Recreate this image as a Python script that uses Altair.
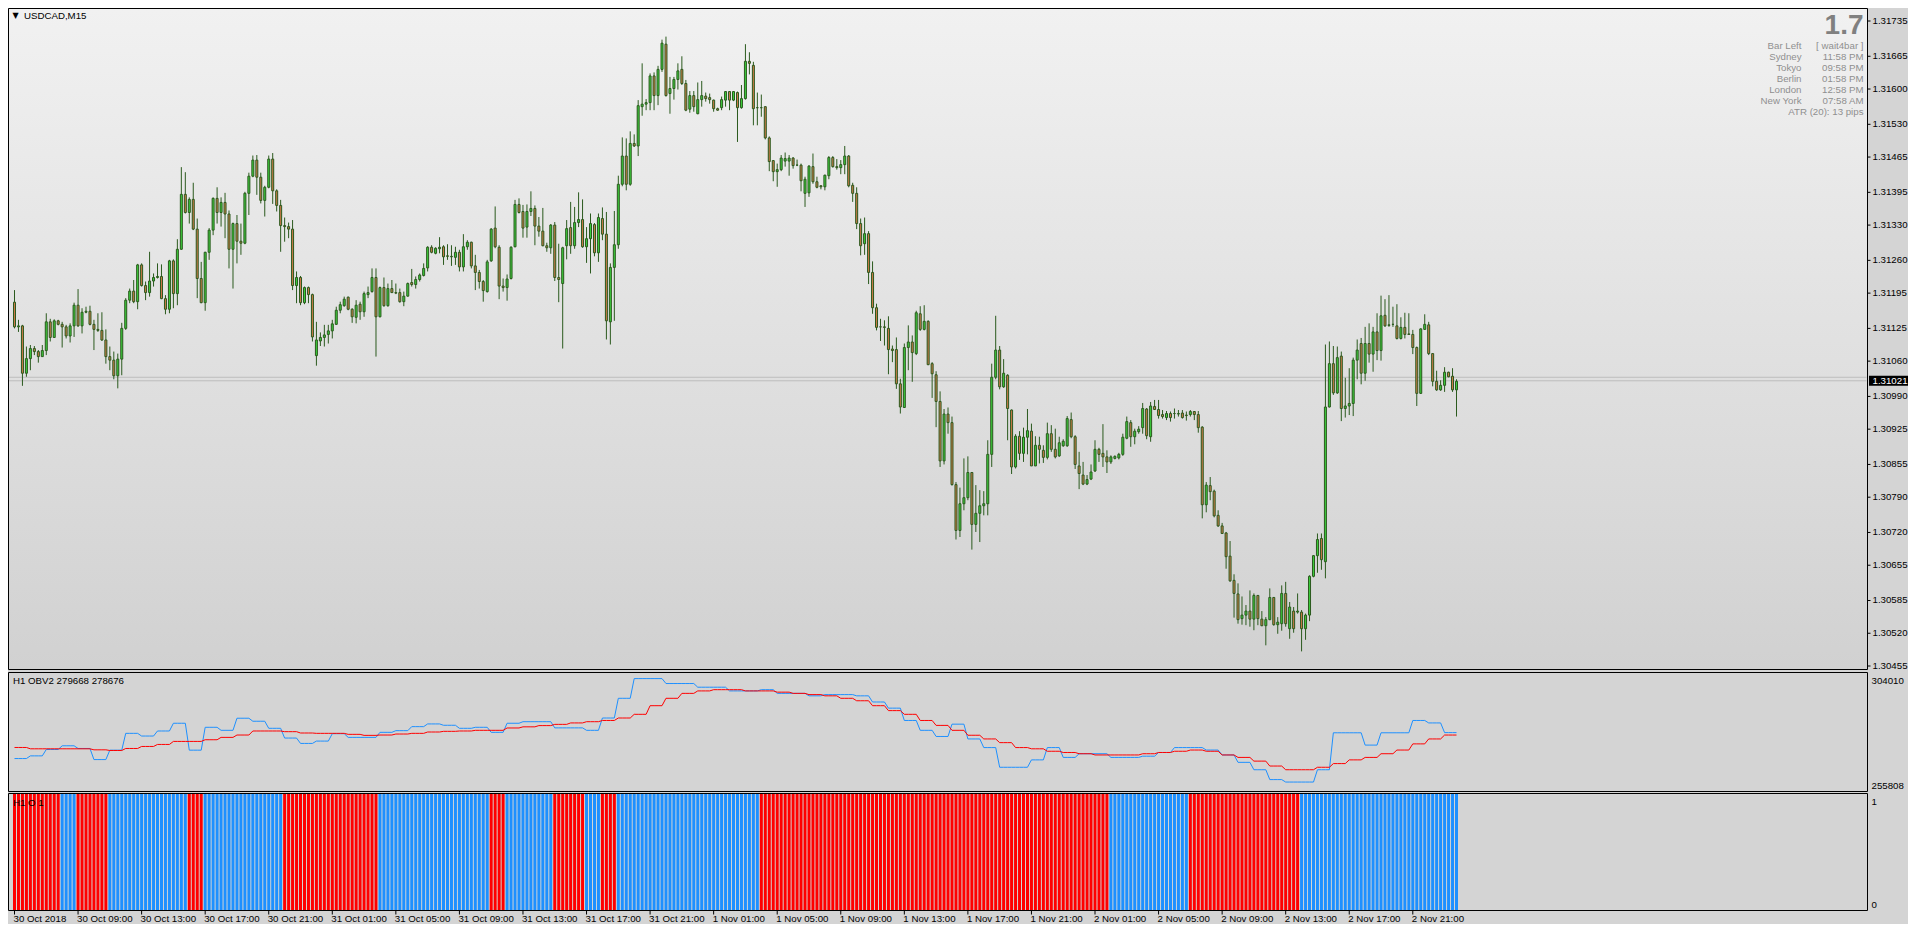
import altair as alt
import pandas as pd

# ---------------- data ----------------
# USDCAD M15 candles; bar 0 = 30 Oct 2018 05:00. Prices in points (0.00001) above 1.30000
OPEN = [1177,1128,1130,1036,1065,1085,1079,1069,1081,1138,
        1107,1140,1133,1128,1110,1130,1171,1130,1157,1159,
        1133,1123,1121,1102,1069,1062,1031,1064,1125,1181,
        1199,1178,1251,1210,1196,1219,1226,1228,1184,1163,
        1259,1194,1282,1391,1355,1381,1322,1224,1176,1276,
        1320,1383,1355,1375,1352,1282,1333,1298,1294,1393,
        1427,1459,1425,1379,1405,1461,1398,1369,1329,1327,
        1322,1210,1226,1176,1206,1192,1071,1100,1107,1113,
        1120,1133,1161,1170,1187,1163,1147,1173,1158,1192,
        1198,1226,1148,1206,1170,1204,1196,1196,1178,1189,
        1216,1212,1222,1230,1245,1286,1274,1283,1287,1269,
        1268,1266,1276,1247,1287,1296,1249,1236,1218,1198,
        1259,1324,1286,1209,1206,1224,1287,1371,1357,1326,
        1357,1363,1328,1318,1289,1285,1330,1226,1214,1289,
        1325,1289,1335,1341,1287,1303,1331,1275,1343,1312,
        1138,1246,1291,1411,1467,1411,1492,1487,1565,1570,
        1573,1626,1587,1639,1689,1591,1601,1619,1639,1611,
        1560,1587,1551,1579,1586,1583,1578,1561,1563,1578,
        1595,1578,1593,1563,1581,1655,1647,1563,1563,1565,
        1503,1458,1436,1440,1457,1457,1463,1449,1449,1393,
        1394,1446,1416,1408,1406,1428,1464,1446,1444,1450,
        1467,1409,1393,1333,1293,1313,1236,1166,1128,1128,
        1125,1084,1083,1015,968,1087,1098,1075,1154,1123,
        1139,1055,1033,980,862,955,938,815,724,777,
        789,839,736,758,773,777,875,1028,1082,1009,
        1032,963,850,911,877,909,921,852,893,883,
        869,916,885,872,892,892,944,910,852,834,
        816,826,842,885,877,870,860,867,868,875,
        907,938,910,920,928,965,910,970,964,954,
        948,956,956,955,957,953,954,960,954,929,
        775,813,802,754,733,719,673,625,598,549,
        556,564,548,595,548,535,547,591,537,539,
        599,529,564,562,562,529,556,633,674,708,
        662,969,1055,997,1070,966,971,976,1062,1095,
        1036,1095,1074,1118,1081,1151,1131,1133,1130,1105,
        1127,1114,1113,1087,996,1123,1132,1075,1020,1003,
        1012,1038,1030,1003]
HIGH = [1201,1142,1132,1089,1092,1090,1082,1092,1155,1144,
        1143,1142,1138,1132,1135,1176,1203,1165,1168,1170,
        1142,1155,1157,1123,1089,1079,1075,1136,1185,1204,
        1221,1253,1254,1218,1277,1234,1254,1252,1191,1261,
        1262,1302,1445,1435,1385,1414,1343,1257,1277,1324,
        1385,1405,1385,1394,1359,1335,1350,1333,1396,1434,
        1468,1469,1434,1408,1468,1473,1401,1380,1345,1335,
        1340,1238,1229,1208,1208,1194,1138,1117,1132,1132,
        1142,1168,1178,1188,1188,1165,1181,1178,1198,1208,
        1244,1244,1208,1226,1214,1221,1214,1204,1198,1216,
        1243,1228,1234,1254,1288,1290,1286,1306,1290,1292,
        1290,1287,1281,1312,1300,1297,1271,1241,1221,1261,
        1324,1367,1290,1224,1232,1288,1380,1383,1370,1371,
        1397,1369,1346,1364,1295,1332,1336,1293,1287,1340,
        1376,1366,1395,1381,1326,1353,1334,1353,1365,1356,
        1254,1358,1428,1504,1502,1516,1510,1578,1651,1580,
        1631,1633,1646,1698,1704,1624,1624,1651,1665,1618,
        1596,1596,1613,1616,1593,1591,1579,1563,1585,1596,
        1596,1596,1595,1608,1689,1673,1654,1593,1589,1565,
        1506,1459,1452,1469,1474,1469,1465,1460,1452,1426,
        1449,1472,1426,1409,1430,1467,1467,1461,1459,1487,
        1469,1414,1405,1343,1345,1318,1258,1174,1144,1141,
        1149,1091,1107,1025,1095,1131,1111,1160,1169,1171,
        1141,1058,1040,1000,965,968,950,820,809,867,
        871,840,814,804,802,903,1055,1150,1090,1064,
        1034,964,915,921,928,965,936,911,910,893,
        938,933,926,910,905,951,958,913,880,860,
        834,855,903,888,935,883,873,873,878,916,
        950,943,926,931,977,967,979,983,983,963,
        961,960,966,963,963,960,963,961,961,931,
        820,830,805,764,739,721,703,637,619,593,
        576,605,599,596,564,552,609,592,552,615,
        622,582,572,599,566,559,635,675,718,718,
        1093,1099,1090,1089,1079,1027,1046,1067,1103,1106,
        1128,1135,1128,1155,1190,1183,1191,1168,1173,1147,
        1156,1155,1122,1089,1125,1153,1138,1075,1041,1022,
        1048,1039,1046,1024]
LOW = [1125,1118,1011,1029,1042,1072,1057,1069,1072,1099,
       1107,1131,1087,1105,1097,1108,1128,1115,1155,1131,
       1082,1118,1100,1055,1042,1024,1006,1032,1122,1175,
       1175,1163,1208,1181,1188,1208,1224,1183,1153,1155,
       1165,1171,1281,1353,1333,1320,1185,1175,1160,1261,
       1310,1333,1327,1304,1244,1204,1254,1271,1292,1350,
       1425,1390,1373,1347,1403,1372,1357,1277,1297,1304,
       1201,1175,1171,1173,1175,1099,1051,1090,1089,1095,
       1105,1132,1155,1168,1161,1136,1135,1142,1148,1185,
       1196,1069,1147,1168,1168,1196,1193,1176,1169,1188,
       1208,1204,1218,1228,1238,1274,1272,1274,1251,1261,
       1249,1251,1238,1238,1281,1244,1201,1204,1178,1196,
       1257,1284,1183,1198,1180,1222,1286,1353,1305,1305,
       1348,1290,1307,1288,1277,1273,1219,1177,1085,1262,
       1273,1283,1326,1285,1255,1234,1268,1257,1300,1103,
       1093,1140,1283,1407,1399,1408,1485,1467,1547,1558,
       1558,1558,1568,1634,1585,1551,1579,1599,1608,1556,
       1553,1555,1550,1565,1575,1571,1555,1557,1558,1565,
       1558,1576,1495,1561,1579,1629,1528,1528,1545,1500,
       1437,1417,1406,1437,1446,1428,1442,1447,1397,1366,
       1386,1412,1403,1401,1399,1421,1444,1440,1431,1431,
       1405,1376,1322,1270,1271,1213,1154,1121,1100,1091,
       1034,1058,1005,956,967,1042,1019,1072,1120,1121,
       1052,987,929,850,855,916,813,706,711,764,
       784,686,721,701,754,754,850,1024,1004,1007,
       903,836,847,864,860,875,852,852,857,858,
       865,880,867,870,890,890,907,846,806,814,
       814,824,840,860,850,838,856,865,865,872,
       905,890,895,916,916,905,900,963,946,946,
       943,940,946,950,946,942,950,943,918,748,
       760,784,750,731,717,648,622,551,539,537,
       536,533,526,536,534,496,546,535,519,525,
       533,509,521,559,484,507,544,631,640,646,
       629,968,993,995,941,948,953,951,1024,1014,
       1021,1057,1039,1062,1061,1128,1128,1128,1103,1103,
       1105,1112,1074,971,995,1122,1072,1010,1001,1001,
       999,1028,999,950]
CLOSE = [1128,1130,1036,1065,1085,1079,1069,1081,1138,1107,
         1140,1133,1128,1110,1130,1171,1130,1157,1159,1133,
         1123,1121,1102,1069,1062,1031,1064,1125,1181,1199,
         1178,1251,1210,1196,1219,1226,1228,1184,1163,1259,
         1194,1282,1391,1355,1381,1322,1224,1176,1276,1320,
         1383,1355,1375,1352,1282,1333,1298,1294,1393,1427,
         1459,1425,1379,1405,1461,1398,1369,1329,1327,1322,
         1210,1226,1176,1206,1192,1108,1102,1107,1112,1120,
         1134,1161,1172,1183,1163,1148,1171,1158,1194,1196,
         1226,1148,1206,1170,1204,1196,1195,1178,1189,1214,
         1212,1222,1231,1244,1286,1276,1284,1286,1267,1268,
         1267,1276,1247,1287,1296,1249,1236,1218,1200,1257,
         1322,1287,1209,1206,1223,1286,1371,1355,1324,1357,
         1363,1328,1318,1289,1285,1330,1226,1222,1285,1323,
         1289,1335,1341,1287,1303,1333,1275,1345,1312,1140,
         1246,1291,1411,1467,1411,1492,1487,1567,1570,1573,
         1626,1587,1639,1691,1587,1601,1619,1636,1611,1558,
         1587,1565,1579,1587,1581,1579,1561,1558,1579,1595,
         1578,1595,1563,1581,1655,1651,1561,1563,1563,1503,
         1456,1436,1440,1463,1462,1463,1448,1449,1418,1421,
         1447,1416,1405,1406,1429,1464,1446,1444,1450,1467,
         1408,1393,1333,1289,1313,1236,1166,1127,1128,1127,
         1083,1081,1015,969,1087,1098,1077,1156,1123,1139,
         1053,1035,980,862,955,938,815,724,777,789,
         839,736,758,773,777,875,1028,1082,1009,1036,
         966,850,911,877,909,922,852,893,885,869,
         916,885,870,898,901,946,910,855,837,816,
         825,840,885,875,870,860,870,871,875,909,
         940,910,921,925,966,912,971,964,952,950,
         956,948,956,956,948,952,960,954,928,775,
         814,801,753,733,718,672,624,599,547,556,
         564,548,595,549,535,547,591,537,542,599,
         539,572,529,564,529,556,633,674,706,666,
         969,1055,997,1067,966,971,976,1062,1082,1036,
         1095,1074,1118,1081,1150,1130,1132,1133,1105,1127,
         1113,1113,1087,996,1124,1133,1075,1020,1003,1012,
         1038,1029,1003,1020]

# H1 OBV (blue) and its moving average (red), one value per hour (4 M15 bars)
OBV_H1 = [269150,270239,272826,274324,273235,268741,272554,279363,278273,280316,
          283448,272554,281814,280588,285490,284265,281405,277456,275277,276231,
          279226,277729,277729,279771,280452,282086,283175,282631,281405,281814,
          279771,283448,284080,284080,281586,281586,280588,285577,293559,301542,
          301542,299546,299546,298049,298049,296553,296553,297051,295555,295555,
          294557,295056,295056,294557,292062,289568,284579,280588,278093,283082,
          277095,273603,265621,265621,268614,273603,269612,271109,271109,269612,
          269612,270111,271608,273603,273603,272605,270610,267616,264623,260632,
          259634,259634,264623,279590,279590,274601,279590,279590,284579,283581,
          279668]
OBV_MA_H1 = [273643,273099,273099,273099,273099,272690,272418,273235,274052,274869,
             276095,276095,276775,277729,278682,280316,280316,280043,279499,279363,
             279363,278954,278546,278682,279090,279363,279907,280180,280316,280588,
             280588,281541,282000,282500,283000,283581,284080,284579,285577,287073,
             290566,293559,295555,296553,297051,297051,296553,296553,296054,295555,
             295056,294557,293559,292561,290566,288570,287073,284579,282583,280588,
             278592,277095,275599,273603,273104,272106,271608,271109,270610,270610,
             270610,271109,271608,272106,272605,272106,270610,269612,268115,266120,
             264623,264623,265621,267117,268614,269612,271109,272605,275095,277095,
             278676]
# H1 "O" state runs: (state, hours)  1 = blue, 0 = red
OSC_RUNS = [(0,3),(1,1),(0,2),(1,5),(0,1),(1,5),(0,6),(1,7),(0,1),(1,3),
            (0,2),(1,1),(0,1),(1,9),(0,22),(1,5),(0,7),(1,10)]

PRICE_TICKS = [1.31735,1.31665,1.31600,1.31530,1.31465,1.31395,1.31330,1.31260,1.31195,1.31125,
               1.31060,1.30990,1.30925,1.30855,1.30790,1.30720,1.30655,1.30585,1.30520,1.30455]
BID, ASK = 1.31021, 1.31028
OBV_AXIS = [304010, 255808]
X_LABELS = ["30 Oct 2018","30 Oct 09:00","30 Oct 13:00","30 Oct 17:00","30 Oct 21:00",
            "31 Oct 01:00","31 Oct 05:00","31 Oct 09:00","31 Oct 13:00","31 Oct 17:00",
            "31 Oct 21:00","1 Nov 01:00","1 Nov 05:00","1 Nov 09:00","1 Nov 13:00",
            "1 Nov 17:00","1 Nov 21:00","2 Nov 01:00","2 Nov 05:00","2 Nov 09:00",
            "2 Nov 13:00","2 Nov 17:00","2 Nov 21:00"]
X_LABEL_BARS = list(range(0, 16 * len(X_LABELS), 16))
INFO_NAMES = ["Bar Left", "Sydney", "Tokyo", "Berlin", "London", "New York"]
INFO_VALUES = ["[ wait4bar ]", "11:58 PM", "09:58 PM", "01:58 PM", "12:58 PM", "07:58 AM"]
ATR_TEXT = "ATR (20): 13 pips"
BIG_TEXT = "1.7"
TITLE = "USDCAD,M15"
OBV_TITLE = "H1 OBV2 279668 278676"
OSC_TITLE = "H1 O 1"

# ---------------- styling ----------------
FONT = "Liberation Sans"
FS = 9.7
BG = "#d4d4d4"
WICK = "#2b5a1e"
BULL = "#3ccd3c"
BEAR = "#cc7a48"
BLUE = "#1e90ff"
RED = "#ff0000"
W, H = 1900, 916
XR = 1859.5  # right border (axis line)
OSC_BOTTOM = 902.5

N = len(CLOSE)
price = lambda v: round(1.3 + v * 1e-5, 5)

cd = pd.DataFrame({
    "bar": list(range(N)),
    "o": [price(v) for v in OPEN],
    "c": [price(v) for v in CLOSE],
    "hi": [price(max(h, o, c)) for h, o, c in zip(HIGH, OPEN, CLOSE)],
    "lo": [price(min(l, o, c)) for l, o, c in zip(LOW, OPEN, CLOSE)],
})
cd["col"] = [BULL if c >= o else BEAR for o, c in zip(OPEN, CLOSE)]

osc_h1 = []
for s, n in OSC_RUNS:
    osc_h1 += [s] * n
ind = pd.DataFrame({
    "bar": list(range(N)),
    "obv": [OBV_H1[i // 4] for i in range(N)],
    "ma": [OBV_MA_H1[i // 4] for i in range(N)],
    "col": [BLUE if osc_h1[i // 4] else RED for i in range(N)],
    "top": [1] * N,
    "bottom": [0] * N,
})

XS = alt.Scale(domain=[0, N - 1], range=[1.5, 1.5 + 4 * (N - 1)], nice=False, zero=False)
PS = alt.Scale(domain=[1.30455, 1.31735], range=[658, 13], nice=False, zero=False)
OS = alt.Scale(domain=[255808, 304010], range=[783.5, 664.5], nice=False, zero=False)
ZS = alt.Scale(domain=[0, 1], range=[OSC_BOTTOM - 0.5, 786], nice=False, zero=False)

ONE = pd.DataFrame({"k": [0]})
X = alt.X("bar:Q", scale=XS, axis=None)


def txt(t, x, y, size=FS, color="black", align="left", baseline="middle", weight="normal", font=FONT):
    return alt.Chart(ONE).mark_text(text=t, font=font, fontSize=size, color=color, align=align,
                                    baseline=baseline, fontWeight=weight).encode(
        x=alt.value(x), y=alt.value(y))


layers = []
# main panel gradient background
grad = alt.LinearGradient(gradient="linear",
                          stops=[alt.GradientStop(color="#f1f1f1", offset=0),
                                 alt.GradientStop(color="#d1d1d1", offset=1)],
                          x1=0, x2=0, y1=0, y2=1)
layers.append(alt.Chart(ONE).mark_rect(fill=grad).encode(
    x=alt.value(0.5), x2=alt.value(XR), y=alt.value(0.5), y2=alt.value(661.5)))

# bid / ask lines
ba = pd.DataFrame({"p": [BID, ASK]})
layers.append(alt.Chart(ba).mark_rule(color="#bdbdbd", strokeWidth=1).encode(
    y=alt.Y("p:Q", scale=PS, axis=None), x=alt.value(1), x2=alt.value(XR - 1)))

# candles
layers.append(alt.Chart(cd).mark_rule(color=WICK, strokeWidth=1).encode(
    x=X, y=alt.Y("hi:Q", scale=PS, axis=None), y2="lo:Q"))
layers.append(alt.Chart(cd).mark_bar(width=2, stroke=WICK, strokeWidth=1, orient="vertical").encode(
    x=X, y=alt.Y("o:Q", scale=PS, axis=None), y2="c:Q", fill=alt.Fill("col:N", scale=None)))

# OBV lines
layers.append(alt.Chart(ind).mark_line(color=BLUE, strokeWidth=1).encode(
    x=X, y=alt.Y("obv:Q", scale=OS, axis=None)))
layers.append(alt.Chart(ind).mark_line(color=RED, strokeWidth=1).encode(
    x=X, y=alt.Y("ma:Q", scale=OS, axis=None)))

# oscillator histogram
layers.append(alt.Chart(ind).mark_bar(width=3, orient="vertical").encode(
    x=X, y=alt.Y("top:Q", scale=ZS, axis=None), y2="bottom:Q", fill=alt.Fill("col:N", scale=None)))

# panel borders
for y0, y1 in [(0.5, 661.5), (664.5, 783.5), (785.5, OSC_BOTTOM)]:
    layers.append(alt.Chart(ONE).mark_rect(fill="transparent", stroke="black", strokeWidth=1).encode(
        x=alt.value(0.5), x2=alt.value(XR), y=alt.value(y0), y2=alt.value(y1)))

# price axis
pt = pd.DataFrame({"p": PRICE_TICKS, "t": [f"{p:.5f}" for p in PRICE_TICKS]})
layers.append(alt.Chart(pt).mark_rule(color="black").encode(
    y=alt.Y("p:Q", scale=PS, axis=None), x=alt.value(XR), x2=alt.value(XR + 3)))
layers.append(alt.Chart(pt).mark_text(font=FONT, fontSize=FS, align="left", baseline="middle", color="black").encode(
    y=alt.Y("p:Q", scale=PS, axis=None), x=alt.value(XR + 5), text="t:N"))
# current price box
bid = pd.DataFrame({"p": [BID], "t": [f"{BID:.5f}"]})
layers.append(alt.Chart(bid).mark_rect(color="black", yOffset=-5, y2Offset=5).encode(
    y=alt.Y("p:Q", scale=PS, axis=None), y2="p:Q", x=alt.value(XR + 1.5), x2=alt.value(W)))
layers.append(alt.Chart(bid).mark_text(font=FONT, fontSize=FS, align="left", baseline="middle", color="white").encode(
    y=alt.Y("p:Q", scale=PS, axis=None), x=alt.value(XR + 5), text="t:N"))

# OBV axis labels
oa = pd.DataFrame({"v": OBV_AXIS, "t": [str(v) for v in OBV_AXIS]})
layers.append(alt.Chart(oa.iloc[:1]).mark_text(font=FONT, fontSize=FS, align="left", baseline="top", dy=3).encode(
    y=alt.Y("v:Q", scale=OS, axis=None), x=alt.value(XR + 4), text="t:N"))
layers.append(alt.Chart(oa.iloc[1:]).mark_text(font=FONT, fontSize=FS, align="left", baseline="alphabetic", dy=-3).encode(
    y=alt.Y("v:Q", scale=OS, axis=None), x=alt.value(XR + 4), text="t:N"))
# oscillator axis labels
za = pd.DataFrame({"v": [1, 0], "t": ["1", "0"]})
layers.append(alt.Chart(za.iloc[:1]).mark_text(font=FONT, fontSize=FS, align="left", baseline="top", dy=3).encode(
    y=alt.Y("v:Q", scale=ZS, axis=None), x=alt.value(XR + 4), text="t:N"))
layers.append(alt.Chart(za.iloc[1:]).mark_text(font=FONT, fontSize=FS, align="left", baseline="alphabetic", dy=-2).encode(
    y=alt.Y("v:Q", scale=ZS, axis=None), x=alt.value(XR + 4), text="t:N"))

# time axis
xl = pd.DataFrame({"bar": X_LABEL_BARS, "t": X_LABELS})
layers.append(alt.Chart(xl).mark_rule(color="black").encode(
    x=X, y=alt.value(OSC_BOTTOM), y2=alt.value(OSC_BOTTOM + 4)))
layers.append(alt.Chart(xl).mark_text(font=FONT, fontSize=FS, align="left", baseline="middle", dx=-1).encode(
    x=X, y=alt.value(911), text="t:N"))

# titles
layers.append(txt("\u25bc", 7.5, 8, size=8, align="center", font="DejaVu Sans"))
layers.append(txt(TITLE, 16, 8))
layers.append(txt(OBV_TITLE, 5, 673))
layers.append(txt(OSC_TITLE, 5, 795))

# info block (top right)
INFO_GRAY = "#8f8f8f"
layers.append(txt(BIG_TEXT, XR - 4, 25.5, size=28, color="#808080", align="right", baseline="alphabetic", weight="bold"))
for k, (nm, vl) in enumerate(zip(INFO_NAMES, INFO_VALUES)):
    yy = 37.5 + 11 * k
    layers.append(txt(nm, XR - 66, yy, color=INFO_GRAY, align="right"))
    layers.append(txt(vl, XR - 4, yy, color=INFO_GRAY, align="right"))
layers.append(txt(ATR_TEXT, XR - 4, 37.5 + 11 * 6, color=INFO_GRAY, align="right"))

chart = alt.layer(*layers).resolve_scale(y="independent").properties(
    width=W, height=H, padding=0, background=BG,
    autosize=alt.AutoSizeParams(type="none"),
).configure_view(strokeWidth=0)

chart.save("out.html", embed_options={"renderer": "svg", "actions": False})
